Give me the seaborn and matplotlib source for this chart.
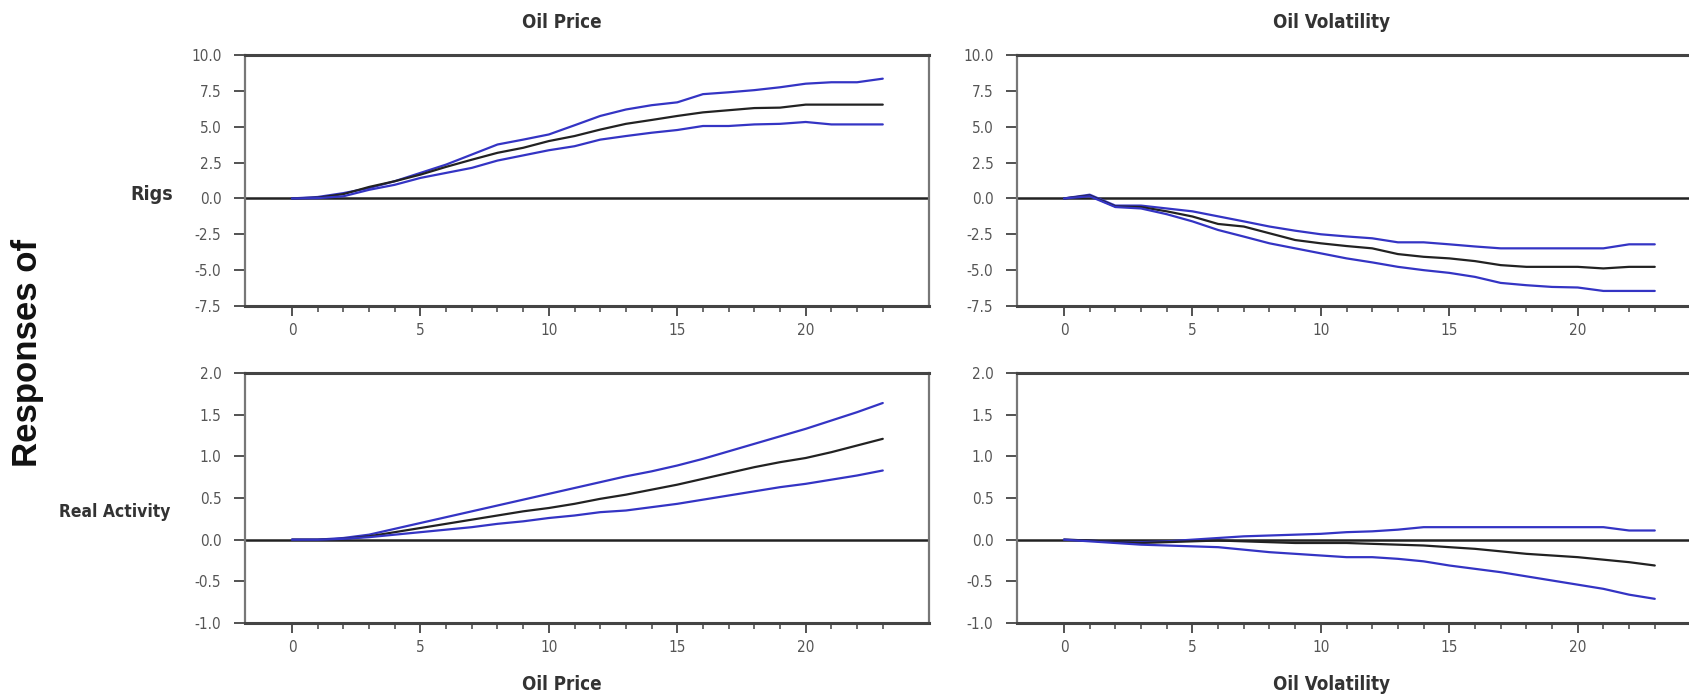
import matplotlib
matplotlib.use("Agg")
import matplotlib.pyplot as plt
import matplotlib.ticker as mticker
from matplotlib import font_manager
import seaborn as sns

# horizon (months after the shock)
horizon = list(range(24))

# Rigs <- Oil Price
rigs_oil_mid = [0.0, 0.05, 0.3, 0.8, 1.2, 1.66, 2.2, 2.7, 3.18, 3.53, 4.0, 4.35,
                4.8, 5.2, 5.47, 5.75, 6.0, 6.15, 6.3, 6.33, 6.54, 6.54, 6.54, 6.54]
rigs_oil_hi = [0.0, 0.1, 0.37, 0.72, 1.2, 1.78, 2.36, 3.06, 3.76, 4.1, 4.46, 5.1,
               5.75, 6.2, 6.5, 6.7, 7.27, 7.4, 7.55, 7.75, 8.0, 8.1, 8.1, 8.35]
rigs_oil_lo = [0.0, 0.02, 0.15, 0.6, 0.95, 1.43, 1.78, 2.13, 2.64, 3.0, 3.36, 3.64,
               4.1, 4.35, 4.58, 4.77, 5.05, 5.05, 5.16, 5.2, 5.33, 5.16, 5.16, 5.16]

# Rigs <- Oil Volatility
rigs_vol_mid = [0.0, 0.2, -0.56, -0.6, -0.9, -1.26, -1.78, -1.96, -2.43, -2.9, -3.13, -3.32,
                -3.48, -3.88, -4.07, -4.18, -4.37, -4.65, -4.77, -4.77, -4.77, -4.88, -4.77, -4.77]
rigs_vol_hi = [0.0, 0.26, -0.5, -0.5, -0.7, -0.9, -1.25, -1.6, -1.96, -2.25, -2.5, -2.65,
               -2.78, -3.06, -3.06, -3.2, -3.35, -3.48, -3.48, -3.48, -3.48, -3.48, -3.2, -3.2]
rigs_vol_lo = [0.0, 0.15, -0.6, -0.7, -1.1, -1.6, -2.2, -2.66, -3.13, -3.48, -3.83, -4.18,
               -4.46, -4.77, -5.0, -5.19, -5.47, -5.89, -6.05, -6.17, -6.21, -6.45, -6.45, -6.45]

# Real Activity <- Oil Price
act_oil_mid = [0.0, 0.0, 0.01, 0.04, 0.09, 0.14, 0.19, 0.24, 0.29, 0.34, 0.38, 0.43,
               0.49, 0.54, 0.6, 0.66, 0.73, 0.8, 0.87, 0.93, 0.98, 1.05, 1.13, 1.21]
act_oil_hi = [0.0, 0.0, 0.02, 0.06, 0.13, 0.2, 0.27, 0.34, 0.41, 0.48, 0.55, 0.62,
              0.69, 0.76, 0.82, 0.89, 0.97, 1.06, 1.15, 1.24, 1.33, 1.43, 1.53, 1.64]
act_oil_lo = [0.0, 0.0, 0.01, 0.03, 0.06, 0.09, 0.12, 0.15, 0.19, 0.22, 0.26, 0.29,
              0.33, 0.35, 0.39, 0.43, 0.48, 0.53, 0.58, 0.63, 0.67, 0.72, 0.77, 0.83]

# Real Activity <- Oil Volatility
act_vol_mid = [0.0, -0.01, -0.03, -0.04, -0.03, -0.02, -0.01, -0.02, -0.03, -0.04, -0.04, -0.04,
               -0.05, -0.06, -0.07, -0.09, -0.11, -0.14, -0.17, -0.19, -0.21, -0.24, -0.27, -0.31]
act_vol_hi = [0.0, -0.01, -0.03, -0.03, -0.02, 0.0, 0.02, 0.04, 0.05, 0.06, 0.07, 0.09,
              0.1, 0.12, 0.15, 0.15, 0.15, 0.15, 0.15, 0.15, 0.15, 0.15, 0.11, 0.11]
act_vol_lo = [0.0, -0.02, -0.04, -0.06, -0.07, -0.08, -0.09, -0.12, -0.15, -0.17, -0.19, -0.21,
              -0.21, -0.23, -0.26, -0.31, -0.35, -0.39, -0.44, -0.49, -0.54, -0.59, -0.66, -0.71]

shock_names = ["Oil Price", "Oil Volatility"]
response_names = ["Rigs", "Real Activity"]
top_yticks = [-7.5, -5.0, -2.5, 0.0, 2.5, 5.0, 7.5, 10.0]
bottom_yticks = [-1.0, -0.5, 0.0, 0.5, 1.0, 1.5, 2.0]

sns.set_style("white")
plt.rcParams["axes.unicode_minus"] = False

# the original uses a narrow sans; use a condensed face if one is installed
cond = font_manager.FontProperties(family="DejaVu Sans", stretch="condensed")
if "Condensed" in font_manager.findfont(cond):
    plt.rcParams["font.family"] = ["DejaVu Sans"]
    plt.rcParams["font.stretch"] = "condensed"
else:
    plt.rcParams["font.family"] = ["Liberation Sans", "DejaVu Sans"]

W, H = 1690, 698
fig = plt.figure(figsize=(W / 100, H / 100), dpi=100)

blue = "#3434c4"
dark = "#222222"
spine_col = "#444444"
tick_col = "#555555"


def px_axes(left, top, right, bottom):
    return fig.add_axes([left / W, 1 - bottom / H, (right - left) / W, (bottom - top) / H])


panels = [
    (px_axes(245, 55, 929, 306), rigs_oil_lo, rigs_oil_mid, rigs_oil_hi, top_yticks),
    (px_axes(1017, 55, 1701, 306), rigs_vol_lo, rigs_vol_mid, rigs_vol_hi, top_yticks),
    (px_axes(245, 373, 929, 623), act_oil_lo, act_oil_mid, act_oil_hi, bottom_yticks),
    (px_axes(1017, 373, 1701, 623), act_vol_lo, act_vol_mid, act_vol_hi, bottom_yticks),
]

for ax, lo, mid, hi, yt in panels:
    ax.axhline(0, color=dark, lw=1.8, zorder=1)
    sns.lineplot(x=horizon, y=hi, ax=ax, color=blue, lw=1.6, zorder=3)
    sns.lineplot(x=horizon, y=mid, ax=ax, color=dark, lw=1.6, zorder=3)
    sns.lineplot(x=horizon, y=lo, ax=ax, color=blue, lw=1.6, zorder=3)
    ax.set_xlim(-1.83, 24.8)
    ax.set_ylim(yt[0], yt[-1])
    ax.set_yticks(yt)
    ax.yaxis.set_major_formatter(mticker.FormatStrFormatter("%.1f"))
    ax.set_xticks([0, 5, 10, 15, 20])
    ax.xaxis.set_minor_locator(mticker.FixedLocator(horizon))
    ax.tick_params(axis="y", which="major", direction="out", length=8, width=1.3,
                   color=spine_col, labelcolor=tick_col, labelsize=11, pad=9, left=True)
    ax.tick_params(axis="x", which="major", direction="out", length=7, width=1.3,
                   color=spine_col, labelcolor=tick_col, labelsize=11, pad=5, bottom=True)
    ax.tick_params(axis="x", which="minor", direction="out", length=4, width=1.1,
                   color=spine_col, bottom=True)
    for side in ["top", "bottom"]:
        ax.spines[side].set_linewidth(2.2)
        ax.spines[side].set_color(spine_col)
    for side in ["left", "right"]:
        ax.spines[side].set_linewidth(1.6)
        ax.spines[side].set_color("#777777")
    ax.set_xlabel("")
    ax.set_ylabel("")
    ax.grid(False)

# column titles and labels
title_kw = dict(ha="center", va="center", fontsize=13.5, fontweight="bold", color="#333333")
fig.text(562 / W, 1 - 22 / H, shock_names[0], **title_kw)
fig.text(1332 / W, 1 - 22 / H, shock_names[1], **title_kw)
fig.text(562 / W, 1 - 685 / H, shock_names[0], **title_kw)
fig.text(1332 / W, 1 - 685 / H, shock_names[1], **title_kw)

fig.text(152 / W, 1 - 194 / H, response_names[0], ha="center", va="center",
         fontsize=14, fontweight="bold", color="#333333")
fig.text(115 / W, 1 - 512 / H, response_names[1], ha="center", va="center",
         fontsize=12.5, fontweight="bold", color="#333333")

fig.text(28 / W, 1 - 353 / H, "Responses of", rotation=90, ha="center", va="center",
         fontsize=25, fontweight="bold", color="#111111", fontstretch="normal",
         family=["Liberation Sans", "DejaVu Sans"])

fig.savefig("out.png", dpi=100)
